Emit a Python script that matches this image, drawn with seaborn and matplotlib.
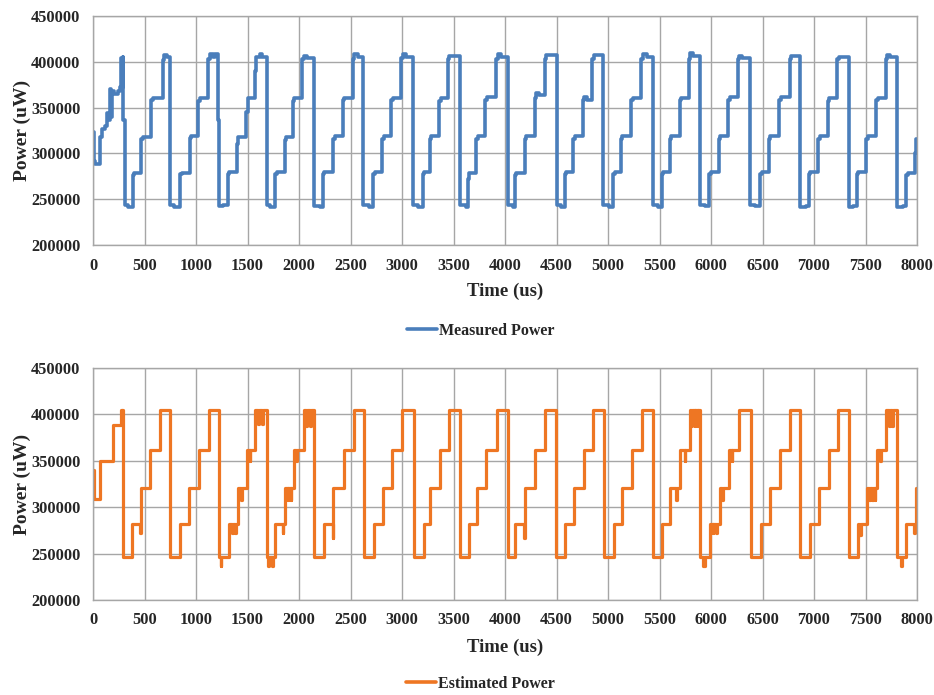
import matplotlib
matplotlib.use("Agg")
import matplotlib.pyplot as plt
import seaborn as sns
import pandas as pd
from matplotlib.ticker import FuncFormatter

# Measured power (step breakpoints)
measured_time = [
    0, 8, 20, 70, 85, 120, 140, 155, 165, 175, 185, 200, 240, 262, 272, 282, 288, 296, 306,
    340, 385, 400, 470, 485, 565, 580, 675, 690, 720, 752,
    790, 845, 860, 940, 955, 1020, 1035, 1118, 1135, 1165, 1185, 1218, 1225,
    1260, 1310, 1325, 1395, 1405, 1490, 1500, 1575, 1585, 1620, 1640, 1685,
    1720, 1770, 1785, 1860, 1875, 1940, 1955, 2030, 2045, 2080, 2150,
    2200, 2232, 2245, 2330, 2345, 2425, 2440, 2520, 2535, 2570, 2625,
    2680, 2720, 2735, 2808, 2825, 2895, 2910, 2990, 3005, 3040, 3110,
    3160, 3200, 3215, 3270, 3285, 3360, 3375, 3445, 3460, 3563,
    3620, 3640, 3655, 3722, 3740, 3810, 3825, 3915, 3930, 3960, 4030,
    4080, 4095, 4110, 4190, 4205, 4287, 4300, 4330, 4388, 4400, 4500,
    4540, 4580, 4595, 4660, 4675, 4755, 4770, 4800, 4848, 4862, 4955,
    5010, 5050, 5065, 5128, 5140, 5226, 5240, 5322, 5335, 5375, 5440,
    5490, 5520, 5535, 5598, 5610, 5695, 5710, 5785, 5800, 5830, 5893,
    5940, 5985, 6000, 6075, 6090, 6165, 6180, 6262, 6275, 6300, 6380,
    6430, 6480, 6495, 6560, 6575, 6665, 6680, 6765, 6780, 6865,
    6920, 6952, 6965, 7040, 7055, 7135, 7150, 7225, 7240, 7335,
    7380, 7418, 7430, 7508, 7520, 7605, 7620, 7695, 7710, 7740, 7806,
    7860, 7895, 7910, 7983, 7992, 8000,
]
measured_power = [
    323000, 292000, 288000, 318000, 327000, 330000, 344000, 336000, 370000, 340000, 368000, 365000, 368000, 372000, 404000, 372000, 405000, 336000, 244000,
    242000, 276000, 279000, 316000, 318000, 358000, 360000, 402000, 407000, 405000, 244000,
    242000, 277000, 279000, 317000, 319000, 357000, 361000, 403000, 408000, 405000, 408000, 337000, 243000,
    244000, 278000, 280000, 310000, 318000, 345000, 360000, 390000, 405000, 408000, 405000, 244000,
    242000, 278000, 280000, 315000, 318000, 357000, 361000, 403000, 406000, 404000, 243000,
    241000, 278000, 280000, 316000, 319000, 358000, 361000, 403000, 408000, 405000, 244000,
    242000, 278000, 280000, 316000, 319000, 358000, 361000, 404000, 408000, 405000, 244000,
    242000, 278000, 280000, 316000, 319000, 357000, 361000, 403000, 406000, 244000,
    242000, 272000, 279000, 316000, 319000, 358000, 362000, 403000, 408000, 405000, 244000,
    242000, 276000, 279000, 316000, 319000, 360000, 366000, 364000, 403000, 407000, 244000,
    242000, 278000, 280000, 316000, 319000, 358000, 362000, 358000, 403000, 407000, 244000,
    242000, 278000, 280000, 316000, 319000, 358000, 361000, 403000, 408000, 405000, 244000,
    241000, 278000, 280000, 316000, 319000, 358000, 361000, 403000, 410000, 406000, 244000,
    243000, 278000, 280000, 316000, 319000, 358000, 362000, 403000, 406000, 404000, 244000,
    243000, 278000, 280000, 316000, 319000, 358000, 362000, 403000, 406000, 241000,
    243000, 278000, 280000, 316000, 319000, 357000, 361000, 403000, 405000, 241000,
    243000, 278000, 280000, 316000, 319000, 358000, 361000, 403000, 407000, 405000, 241000,
    243000, 276000, 279000, 300000, 316000, 316000,
]

# Estimated power (step breakpoints)
estimated_time = [
    0, 10, 70, 190, 270, 278, 283, 291, 378, 455, 462, 469, 556, 653, 750,
    848, 928, 1025, 1122, 1219, 1238, 1246, 1316, 1352, 1360, 1380, 1388, 1404, 1440, 1448,
    1495, 1520, 1528, 1576, 1606, 1614, 1640, 1648, 1689, 1700, 1710, 1740, 1750,
    1770, 1840, 1848, 1867, 1890, 1898, 1920, 1926, 1948, 1975, 1982,
    2045, 2070, 2078, 2105, 2112, 2150, 2239, 2326, 2334, 2433, 2530, 2627,
    2724, 2815, 2903, 3000, 3113, 3210, 3275, 3366, 3453, 3566,
    3647, 3728, 3818, 3922, 4025, 4100, 4185, 4193, 4294, 4391, 4498,
    4585, 4666, 4763, 4854, 4958, 5055, 5136, 5233, 5330, 5437,
    5524, 5605, 5665, 5673, 5702, 5745, 5752, 5793, 5808, 5815, 5840, 5847, 5870, 5877, 5896,
    5925, 5940, 5993, 6015, 6023, 6050, 6058, 6083, 6110, 6118, 6171, 6200, 6208, 6268, 6388,
    6485, 6569, 6673, 6770, 6867, 6958, 7045, 7142, 7230, 7336,
    7424, 7435, 7443, 7450, 7458, 7515, 7535, 7542, 7565, 7572, 7590, 7597,
    7612, 7640, 7648, 7702, 7730, 7737, 7760, 7767, 7806,
    7840, 7850, 7896, 7975, 7983, 7990, 8000,
]
estimated_power = [
    340000, 309000, 350000, 389000, 405000, 389000, 405000, 246000, 282000, 272000, 282000, 321000, 362000, 405000, 246000,
    282000, 321000, 362000, 405000, 246000, 237000, 246000, 282000, 272000, 282000, 272000, 282000, 321000, 308000, 321000,
    362000, 350000, 362000, 405000, 390000, 405000, 390000, 405000, 246000, 237000, 246000, 237000, 246000,
    282000, 272000, 282000, 321000, 308000, 321000, 308000, 321000, 362000, 350000, 362000,
    405000, 388000, 405000, 388000, 405000, 246000, 282000, 267000, 321000, 362000, 405000, 246000,
    282000, 321000, 362000, 405000, 246000, 282000, 321000, 362000, 405000, 246000,
    282000, 321000, 362000, 405000, 246000, 282000, 267000, 321000, 362000, 405000, 246000,
    282000, 321000, 362000, 405000, 246000, 282000, 321000, 362000, 405000, 246000,
    282000, 321000, 308000, 321000, 362000, 350000, 362000, 405000, 388000, 405000, 388000, 405000, 388000, 405000, 246000,
    237000, 246000, 282000, 272000, 282000, 272000, 282000, 321000, 308000, 321000, 362000, 350000, 362000, 405000, 246000,
    282000, 321000, 362000, 405000, 246000, 282000, 321000, 362000, 405000, 246000,
    282000, 270000, 282000, 270000, 282000, 321000, 308000, 321000, 308000, 321000, 308000, 321000,
    362000, 350000, 362000, 405000, 388000, 405000, 388000, 405000, 246000,
    237000, 246000, 282000, 272000, 282000, 321000, 321000,
]

x_ticks = list(range(0, 8001, 500))
y_ticks = list(range(200000, 450001, 50000))

blue = "#4A7EBB"
orange = "#EE7623"
grid_gray = "#A6A6A6"

sns.set_style("white")
plt.rcParams["font.family"] = ["Liberation Serif", "DejaVu Serif"]
plt.rcParams["font.weight"] = "bold"

fig = plt.figure(figsize=(9.34, 6.95), dpi=100)
W, H = 934, 695
ax_top = fig.add_axes([93 / W, 1 - 245 / H, 824 / W, 229 / H])
ax_bot = fig.add_axes([93 / W, 1 - 600 / H, 824 / W, 232 / H])

df_m = pd.DataFrame({"t": measured_time, "p": measured_power})
df_e = pd.DataFrame({"t": estimated_time, "p": estimated_power})

sns.lineplot(data=df_m, x="t", y="p", ax=ax_top, color=blue, lw=2.6,
             drawstyle="steps-post", estimator=None, sort=False, label="Measured Power")
sns.lineplot(data=df_e, x="t", y="p", ax=ax_bot, color=orange, lw=2.3,
             drawstyle="steps-post", estimator=None, sort=False, label="Estimated Power")

fmt = FuncFormatter(lambda v, _: f"{int(v)}")
for ax, leg_y, lab_y in [(ax_top, -0.375, -0.165), (ax_bot, -0.36, -0.165)]:
    ax.set_xlim(0, 8000)
    ax.set_ylim(200000, 450000)
    ax.set_xticks(x_ticks)
    ax.set_yticks(y_ticks)
    ax.yaxis.set_major_formatter(fmt)
    ax.grid(True, color=grid_gray, lw=1)
    for s in ax.spines.values():
        s.set_color(grid_gray)
        s.set_linewidth(1)
    ax.tick_params(axis="both", length=5, width=1, color=grid_gray, direction="out",
                   labelsize=11.8, pad=4)
    for lbl in ax.get_xticklabels() + ax.get_yticklabels():
        lbl.set_fontweight("bold")
    ax.set_xlabel("Time (us)", fontsize=13.5, fontweight="bold")
    ax.set_ylabel("Power (uW)", fontsize=14, fontweight="bold")
    ax.xaxis.set_label_coords(0.5, lab_y)
    ax.yaxis.set_label_coords(-0.075, 0.5)
    leg = ax.legend(loc="center", bbox_to_anchor=(0.47, leg_y), frameon=False,
                    handlelength=1.9, handletextpad=0.1,
                    prop={"size": 11.5, "weight": "bold"})
    for line in leg.get_lines():
        line.set_linewidth(2.6)

fig.savefig("out.png", dpi=100, facecolor="white")
